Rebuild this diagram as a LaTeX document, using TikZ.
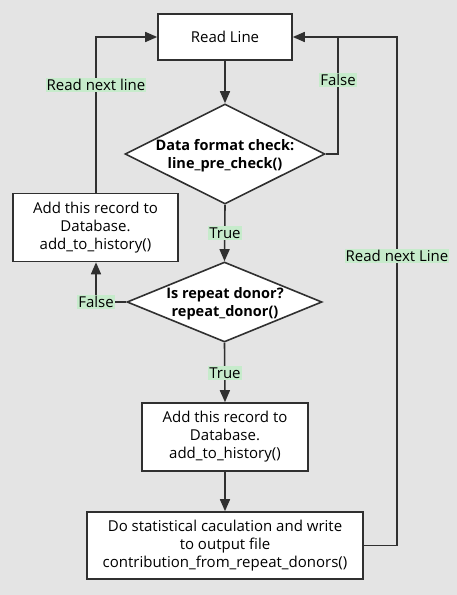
\documentclass[tikz,border=0pt]{standalone}
\usepackage{fontspec}
\setmainfont{Open Sans}
\usetikzlibrary{shapes.geometric,arrows.meta}
\definecolor{bgc}{HTML}{E4E4E4}
\definecolor{lblc}{HTML}{C6EBCB}
\definecolor{linec}{HTML}{303030}
\tikzset{
  box/.style={draw=linec, line width=1.6pt, fill=white, rectangle, align=center, font=\fontsize{15}{18}\selectfont, inner sep=0pt},
  diashape/.style={draw=linec, line width=1.6pt, fill=white, diamond, inner sep=0pt},
  diatext/.style={align=center, font=\fontsize{14.5}{18}\selectfont\bfseries},
  lbl/.style={fill=lblc, inner xsep=1pt, inner ysep=1.5pt, font=\fontsize{15}{16}\selectfont},
  conn/.style={draw=linec, line width=1.6pt},
  arr/.style={conn, -{Triangle[length=12pt,width=10pt]}},
}
\begin{document}
\begin{tikzpicture}[x=1pt,y=-1pt]
\fill[bgc] (0,0) rectangle (457,595);
\useasboundingbox (0,0) rectangle (457,595);
\node[box, minimum width=134pt, minimum height=46pt] (read) at (225,37) {Read Line};
\node[diashape, aspect=2, minimum width=200pt, minimum height=100pt] (chk) at (225,154) {};
\node[diatext] (chkt) at (225,156) {Data format check:\\line\_pre\_check()};
\node[box, minimum width=165pt, minimum height=68pt] (hist1) at (95.5,227.5) {Add this record to\\Database.\\add\_to\_history()};
\node[diashape, aspect=2.4, minimum width=195pt, minimum height=80pt] (rep) at (224.5,302) {};
\node[diatext] (rept) at (225,304) {Is repeat donor?\\repeat\_donor()};
\node[box, minimum width=166pt, minimum height=68pt] (hist2) at (225,437) {Add this record to\\Database.\\add\_to\_history()};
\node[box, minimum width=276pt, minimum height=67pt] (stat) at (225,545.5) {Do statistical caculation and write\\to output file\\contribution\_from\_repeat\_donors()};
\coordinate (fa) at (338,154);
\coordinate (fb) at (338,37);
\coordinate (la) at (96,37);
\coordinate (ra) at (397,545.5);
\coordinate (rb) at (397,37);
\coordinate (fl) at (96,302);
% connectors
\draw[arr] (read.south) -- (chk.north);
\draw[conn] (chk.east) -- (fa) -- (fb);
\draw[arr] (fb) -- (read.east);
\draw[arr] (hist1.north -| la) -- (la) -- (read.west);
\draw[arr] (chk.south) -- (rep.north);
\draw[arr] (rep.west) -- (fl) -- (hist1.south -| fl);
\draw[arr] (rep.south) -- (hist2.north);
\draw[arr] (hist2.south) -- (stat.north);
\draw[conn] (stat.east) -- (ra) -- (rb) -- (fb);
% labels
\node[lbl] (l1) at (338,80) {False};
\node[lbl] (l2) at (96,85) {Read next line};
\node[lbl] (l3) at (225,233) {True};
\node[lbl] (l4) at (96,302) {False};
\node[lbl] (l5) at (225,373) {True};
\node[lbl] (l6) at (397,256) {Read next Line};
\end{tikzpicture}
\end{document}
